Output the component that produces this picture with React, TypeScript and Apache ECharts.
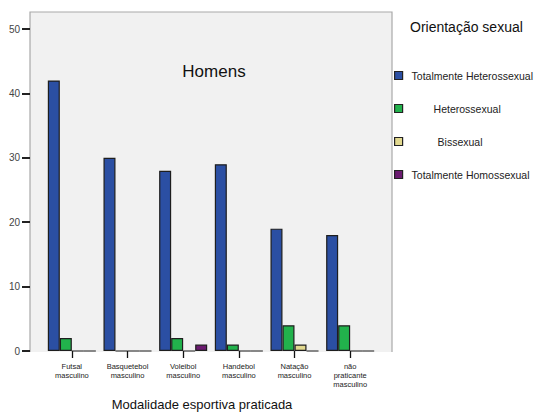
import React, { useEffect, useRef } from "react";
import * as echarts from "echarts";

const categories = [
  "Futsal\nmasculino",
  "Basquetebol\nmasculino",
  "Voleibol\nmasculino",
  "Handebol\nmasculino",
  "Natação\nmasculino",
  "não\npraticante\nmasculino",
];
const seriesNames = [
  "Totalmente Heterossexual",
  "Heterossexual",
  "Bissexual",
  "Totalmente Homossexual",
];
const totHetero = [42, 30, 28, 29, 19, 18];
const hetero = [2, 0, 2, 1, 4, 4];
const bissexual = [0, 0, 0, 0, 1, 0];
const totHomo = [0, 0, 1, 0, 0, 0];
const seriesValues = [totHetero, hetero, bissexual, totHomo];
const colors = ["#2b4fa3", "#22b24c", "#e2d98f", "#6b1b70"];
const yTicks = { min: 0, max: 50, interval: 10 };

const FONT = "'Liberation Sans', Arial, Helvetica, sans-serif";

export default function App() {
  const ref = useRef<HTMLDivElement>(null);
  useEffect(() => {
    document.body.style.margin = "0";
    if (!ref.current) return;
    const chart = echarts.init(ref.current, null, { renderer: "svg" });
    const richKeys = ["a", "b", "c", "d"];
    const pads = [4, 26, 30, 4];
    const rich: any = {};
    richKeys.forEach((k, i) => {
      rich[k] = {
        fontSize: 10.5,
        lineHeight: 12,
        color: "#222",
        fontFamily: FONT,
        padding: [0, 0, 0, pads[i]],
      };
    });
    chart.setOption({
      animation: false,
      backgroundColor: "#ffffff",
      textStyle: { fontFamily: FONT },
      grid: { left: 44, right: 160, top: 29, bottom: 61 },
      graphic: [
        {
          type: "rect",
          z: -10,
          shape: { x: 30, y: 12, width: 362, height: 340 },
          style: { fill: "#f1f1f1" },
          silent: true,
        },
        {
          type: "polyline",
          z: -9,
          shape: { points: [[30, 352], [30, 12], [392, 12], [392, 352]] },
          style: { stroke: "#a9a9a9", lineWidth: 1.2, fill: "none" },
          silent: true,
        },
        {
          type: "text",
          x: 214,
          y: 71,
          style: {
            text: "Homens",
            fontSize: 17,
            fontFamily: FONT,
            fill: "#111",
            textAlign: "center",
            textVerticalAlign: "middle",
          },
        },
        {
          type: "text",
          x: 410,
          y: 27,
          style: {
            text: "Orientação sexual",
            fontSize: 14,
            fontFamily: FONT,
            fill: "#111",
            textAlign: "left",
            textVerticalAlign: "middle",
          },
        },
        {
          type: "text",
          x: 202,
          y: 404,
          style: {
            text: "Modalidade esportiva praticada",
            fontSize: 13,
            fontFamily: FONT,
            fill: "#111",
            textAlign: "center",
            textVerticalAlign: "middle",
          },
        },
      ],
      legend: {
        orient: "vertical",
        left: 394,
        top: 70,
        padding: 0,
        itemWidth: 8,
        itemHeight: 8,
        itemGap: 22,
        icon: "rect",
        data: seriesNames,
        itemStyle: { borderColor: "#222", borderWidth: 1.2 },
        formatter: (name: string) => {
          const i = seriesNames.indexOf(name);
          return `{${richKeys[i]}|${name}}`;
        },
        textStyle: { rich, fontSize: 10.5, color: "#222" },
      },
      xAxis: {
        type: "category",
        data: categories,
        axisLine: { show: false },
        axisTick: {
          show: true,
          alignWithLabel: true,
          length: 7,
          lineStyle: { color: "#111", width: 1.3 },
        },
        axisLabel: {
          interval: 0,
          fontSize: 7.5,
          lineHeight: 9,
          color: "#222",
          margin: 11,
          fontFamily: FONT,
        },
      },
      yAxis: {
        type: "value",
        min: yTicks.min,
        max: yTicks.max,
        interval: yTicks.interval,
        offset: 14,
        axisLine: { show: false },
        axisTick: { show: true, length: 8, lineStyle: { color: "#222", width: 2 } },
        axisLabel: { fontSize: 10, color: "#444", margin: 10, fontFamily: FONT },
        splitLine: { show: false },
      },
      series: seriesNames.map((name, i) => ({
        name,
        type: "bar",
        data: seriesValues[i],
        barGap: "0%",
        barCategoryGap: "13.7%",
        itemStyle: { color: colors[i], borderColor: "#1e1e1e", borderWidth: 1.2 },
      })),
    });
    return () => chart.dispose();
  }, []);
  return <div ref={ref} style={{ width: 538, height: 412 }} />;
}
